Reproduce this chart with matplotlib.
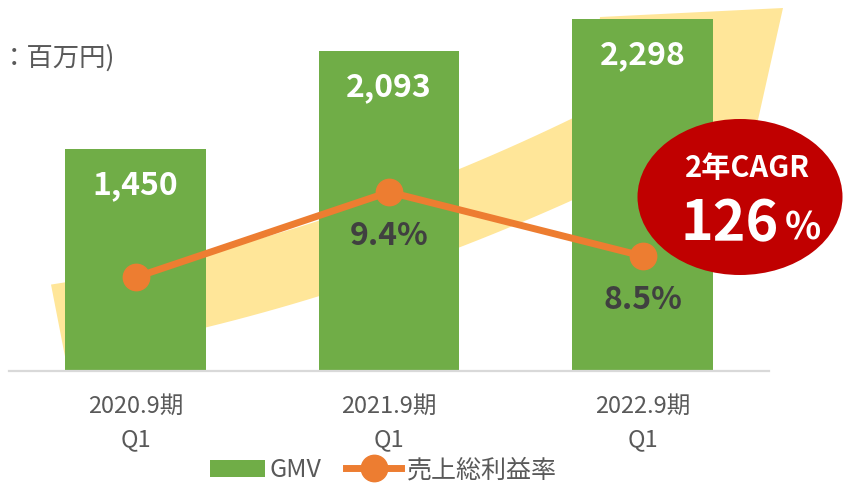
import matplotlib
matplotlib.use('Agg')
import matplotlib.pyplot as plt
import numpy as np
from matplotlib.patches import Polygon, Ellipse

plt.rcParams['font.family'] = ['Noto Sans CJK JP', 'DejaVu Sans']

# data
periods = ['2020.9期\nQ1', '2021.9期\nQ1', '2022.9期\nQ1']
gmv = [1450, 2093, 2298]
gmv_labels = ['1,450', '2,093', '2,298']
margin = [8.2, 9.4, 8.5]
margin_labels = [None, '9.4%', '8.5%']
unit_text = '：百万円)'
cagr_title = '2年CAGR'
cagr_value = '126'

green = '#70AD47'
orange = '#ED7D31'
yellow = '#FFE699'
red = '#C00000'
gray = '#595959'

W, H = 843, 484
fig = plt.figure(figsize=(W / 100, H / 100), dpi=100)

# background decoration (yellow curved band), pixel coords
bg = fig.add_axes([0, 0, 1, 1], zorder=0)
bg.set_xlim(0, W)
bg.set_ylim(H, 0)
bg.axis('off')
top_fit = np.polyfit([51, 206, 319, 459, 572], [285, 252, 221, 170, 118], 2)
bot_fit = np.polyfit([65, 206, 319, 459, 572], [357, 326, 297, 248, 200], 2)
xt = np.linspace(51, 590, 40)
xb = np.linspace(620, 65, 40)
band = list(zip(xt, np.polyval(top_fit, xt)))
band += [(600, 17), (783, 8), (745, 178), (690, 172)]
band += list(zip(xb, np.polyval(bot_fit, xb)))
bg.add_patch(Polygon(band, closed=True, facecolor=yellow, edgecolor='none'))

# main chart
ax = fig.add_axes([8.75 / W, (H - 371) / H, 760.5 / W, 367.4 / H], zorder=1)
ax.patch.set_visible(False)
x = range(len(periods))
ax.bar(x, gmv, width=0.556, color=green, zorder=2)
ax.set_xlim(-0.5, 2.5)
ax.set_ylim(0, 2400)
ax.set_yticks([])
for s in ['top', 'left', 'right']:
    ax.spines[s].set_visible(False)
ax.spines['bottom'].set_color('#D9D9D9')
ax.spines['bottom'].set_linewidth(1.6)
ax.set_xticks(list(x))
ax.set_xticklabels(periods, fontsize=17, color=gray, linespacing=1.6)
ax.tick_params(axis='x', length=0, pad=17)
for i, v in enumerate(gmv):
    ax.annotate(gmv_labels[i], (i, v), xytext=(0, -26), textcoords='offset points',
                ha='center', va='center', fontsize=23, fontweight='bold', color='white')

ax2 = ax.twinx()
ax2.set_zorder(2)
ax2.patch.set_visible(False)
ln, = ax2.plot(x, margin, color=orange, linewidth=5, marker='o', markersize=19)
ax2.set_ylim(6.883, 12.05)
ax2.axis('off')
for i, v in enumerate(margin):
    if margin_labels[i]:
        ax2.annotate(margin_labels[i], (i, v), xytext=(0, -32), textcoords='offset points',
                     ha='center', va='center', fontsize=23, fontweight='bold', color='#404040')

bars = ax.patches[0]
fig.legend([bars, ln], ['GMV', '売上総利益率'], loc='center', bbox_to_anchor=(383 / W, 1 - 470 / H),
           ncol=2, frameon=False, fontsize=18, handlelength=2.2, handletextpad=0.2,
           columnspacing=1.0, labelcolor=gray, borderpad=0.1)

# foreground decoration
fg = fig.add_axes([0, 0, 1, 1], zorder=3)
fg.set_xlim(0, W)
fg.set_ylim(H, 0)
fg.axis('off')
fg.patch.set_visible(False)
fg.add_patch(Ellipse((740, 197), 205, 156, facecolor=red, edgecolor='none'))
fg.text(748, 168, cagr_title, ha='center', va='center', fontsize=21, fontweight='bold', color='white')
fg.text(779, 240, cagr_value, ha='right', va='baseline', fontsize=40, fontweight='bold', color='white')
fg.text(785, 240, '%', ha='left', va='baseline', fontsize=27, fontweight='bold', color='white')
fg.text(1, 58, unit_text, ha='left', va='center', fontsize=19, color=gray)

fig.savefig('out.png', dpi=100)
